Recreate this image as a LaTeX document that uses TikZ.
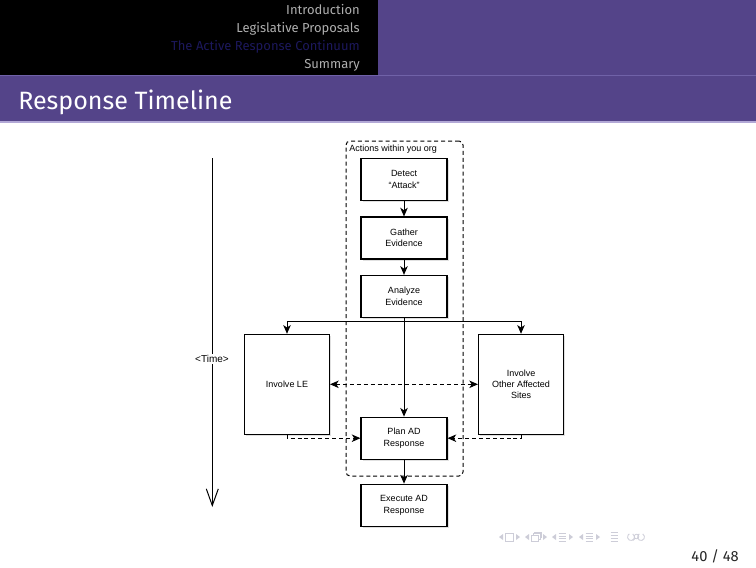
\documentclass[tikz,border=0pt]{standalone}
\usepackage{fontspec}
\setmainfont{Liberation Sans}
\newfontfamily\fira{Fira Sans}
\usetikzlibrary{arrows.meta,shadows}
\definecolor{bpurple}{RGB}{84,68,137}
\definecolor{bpurplelight}{RGB}{112,98,168}
\definecolor{blavender}{RGB}{178,168,214}
\definecolor{secgray}{RGB}{175,175,175}
\definecolor{secactive}{RGB}{28,24,92}
\definecolor{navgray}{RGB}{205,205,216}
\begin{document}
\begin{tikzpicture}[x=0.75pt,y=-0.75pt,
  box/.style={draw=black,line width=0.8pt,fill=white,inner sep=0pt,
    minimum width=64.5pt,minimum height=31.5pt,align=center,
    font=\fontsize{6.75}{8.6}\selectfont,
    drop shadow={shadow xshift=1.4pt,shadow yshift=-1.4pt,fill=black,opacity=0.12}},
  bigbox/.style={box,minimum width=63.75pt,minimum height=75pt},
  flow/.style={line width=0.75pt,-{Stealth[length=6.5pt,width=5.6pt,inset=1.8pt]}},
  flowd/.style={flow,dash pattern=on 3pt off 2.2pt},
  container/.style={draw=black,line width=0.75pt,dash pattern=on 3pt off 2.2pt,rounded corners=3pt,
    inner sep=0pt,minimum width=87.75pt,minimum height=251.25pt},
  timeline/.style={line width=0.75pt,-{Straight Barb[length=12.5pt,width=9pt]}},
  sec/.style={anchor=base east,font=\fira\fontsize{9.75}{11}\selectfont,inner sep=0pt},
]
\useasboundingbox (0,0) rectangle (756,567);
\fill[white] (0,0) rectangle (756,567);
% header
\fill[black] (0,0) rectangle (378,75);
\fill[bpurple] (378,0) rectangle (756,75);
\fill[bpurple] (0,75) rectangle (756,122);
\draw[bpurplelight,line width=0.6pt] (0,75.5) -- (756,75.5);
\draw[blavender,line width=0.9pt] (0,122) -- (756,122);
\node[sec,text=secgray] (s1) at (360,14.5) {Introduction};
\node[sec,text=secgray] (s2) at (360,32.5) {Legislative Proposals};
\node[sec,text=secactive] (s3) at (360,50.5) {The Active Response Continuum};
\node[sec,text=secgray] (s4) at (360,68.5) {Summary};
\node[anchor=base west,inner sep=0pt,text=white,font=\fira\fontsize{18.8}{21}\selectfont] (title) at (18,109.3) {Response Timeline};

% container
\node[container] (org) at (404.5,308.5) {};
\node[anchor=west,inner sep=0pt,font=\fontsize{6.75}{8}\selectfont] (orglbl) at (349,149) {Actions within you org};

% boxes
\node[box] (detect) at (404,179.3) {Detect\\``Attack''};
\node[box] (gather) at (404,238) {Gather\\Evidence};
\node[box] (analyze) at (404,296.4) {Analyze\\Evidence};
\node[bigbox] (le) at (287,384.3) {Involve LE};
\node[bigbox] (other) at (521,384.3) {Involve\\Other Affected\\Sites};
\node[box] (plan) at (404,438.2) {Plan AD\\Response};
\node[box] (exec) at (404,505.2) {Execute AD\\Response};

% connectors
\draw[flow] (detect.south) -- (gather.north);
\draw[flow] (gather.south) -- (analyze.north);
\draw[flow] (analyze.south) -- (plan.north);
\coordinate (br) at (404,321);
\draw[flow] (br) -| (le.north);
\draw[flow] (br) -| (other.north);
\draw[flowd,{Stealth[length=6.5pt,width=5.6pt,inset=1.8pt]}-{Stealth[length=6.5pt,width=5.6pt,inset=1.8pt]}] (le.east) -- (other.west);
\draw[flowd] (le.south) |- (plan.west);
\draw[flowd] (other.south) |- (plan.east);
\draw[flow] (plan.south) -- (exec.north);

% time axis
\coordinate (t0) at (212.3,158);
\coordinate (t1) at (212.3,507);
\draw[timeline] (t0) -- (t1);
\node[fill=white,inner sep=1pt,font=\fontsize{7.5}{9}\selectfont] (time) at (212,359.3) {\textless Time\textgreater};

% navigation symbols
\begin{scope}[navgray,line width=0.6pt,xshift=3pt]
  \fill (499,534) -- (495,537) -- (499,540) -- cycle;
  \draw (501.5,533) rectangle (509.5,541);
  \fill (512,534) -- (516,537) -- (512,540) -- cycle;
  \fill (525,534) -- (521,537) -- (525,540) -- cycle;
  \draw (527.5,535) rectangle (534.5,541);
  \draw (529,535) -- (529,533.5) -- (536,533.5) -- (536,539.5) -- (534.5,539.5);
  \draw (530.5,533.5) -- (530.5,532) -- (537.5,532) -- (537.5,538);
  \fill (539,534) -- (543,537) -- (539,540) -- cycle;
  \fill (552,534) -- (548,537) -- (552,540) -- cycle;
  \draw (554.5,533.5) -- (561.5,533.5) (554.5,536) -- (561.5,536) (554.5,538.5) -- (561.5,538.5) (554.5,541) -- (561.5,541);
  \fill (565,534) -- (569,537) -- (565,540) -- cycle;
  \fill (579,534) -- (575,537) -- (579,540) -- cycle;
  \draw (581.5,533.5) -- (588.5,533.5) (581.5,536) -- (588.5,536) (581.5,538.5) -- (588.5,538.5) (581.5,541) -- (588.5,541);
  \fill (592,534) -- (596,537) -- (592,540) -- cycle;
  \draw (606.5,532.5) -- (613.5,532.5) (606.5,535.5) -- (613.5,535.5) (606.5,538.5) -- (613.5,538.5) (606.5,541.5) -- (613.5,541.5);
  \draw (628.75,533.97) arc[start angle=-60,end angle=240,radius=3.5];
  \draw (632.5,536.5) circle[radius=2.3] (630.9,538.3) -- (629.3,540.5);
  \draw (638.75,533.97) arc[start angle=-60,end angle=240,radius=3.5];
\end{scope}
\node[anchor=base east,inner sep=0pt,text=black!85,font=\fira\fontsize{11}{12}\selectfont] (page) at (739,561) {40 / 48};
\end{tikzpicture}
\end{document}
